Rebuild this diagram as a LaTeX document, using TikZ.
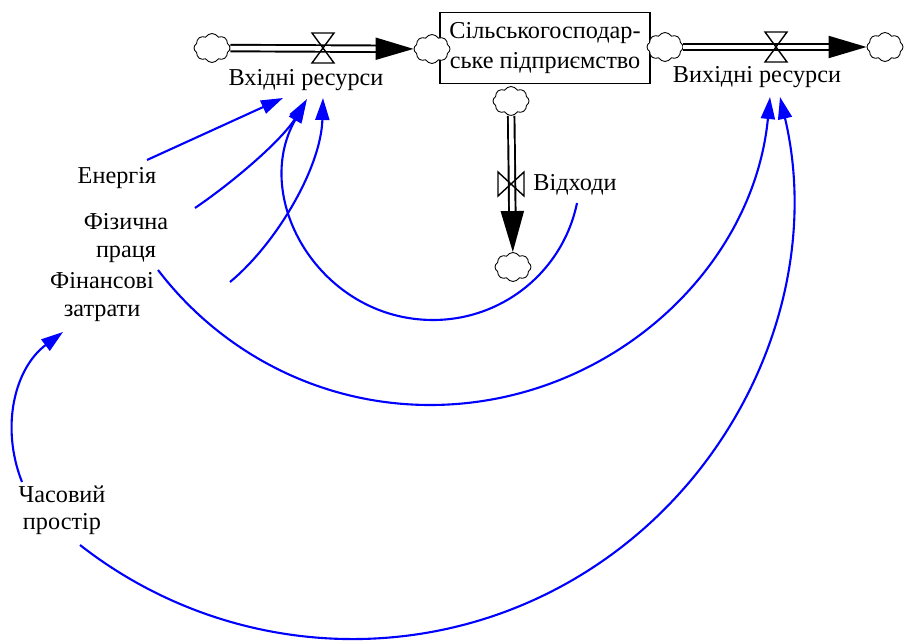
\documentclass[tikz,border=0pt]{standalone}
\usepackage{fontspec}
\setmainfont{Liberation Serif}
\usetikzlibrary{calc,arrows.meta,shapes.symbols,positioning}

\begin{document}
\begin{tikzpicture}[x=0.2mm,y=-0.2mm,every node/.style={font=\rmfamily\fontsize{13.8pt}{15.5pt}\selectfont}]

\tikzset{cloudnode/.style={shape=cloud,draw,fill=white,line width=0.5pt,cloud puffs=8,cloud puff arc=120,cloud ignores aspect,minimum width=7.2mm,minimum height=5.8mm,inner sep=0pt},
stocknode/.style={draw,line width=1.1pt,minimum width=42mm,minimum height=14.2mm,align=center,inner sep=0pt,font=\rmfamily\fontsize{13.8pt}{17pt}\selectfont},
labelnode/.style={align=center,inner sep=1pt},
pipe/.style={double,double distance=2.6pt,line width=1.1pt,-{Triangle[length=7.6mm,width=4.4mm]}},
valveline/.style={line width=0.8pt},
link/.style={blue,line width=1.2pt,-{Triangle[length=4.4mm,width=2.8mm]}}}

\useasboundingbox (0,0) rectangle (905,642);

% Stock
\node[stocknode] (farm) at (545,48) {Сільськогосподар-\\ське підприємство};

% Clouds
\node[cloudnode] (cloudA) at (212,48) {};
\node[cloudnode] (cloudB) at (432,49) {};
\node[cloudnode] (cloudC) at (665,47) {};
\node[cloudnode] (cloudD) at (885,47) {};
\node[cloudnode] (cloudE) at (511,101) {};
\node[cloudnode] (cloudF) at (513,267) {};

% Flows
\draw[pipe] (cloudA) -- (cloudB);
\draw[pipe] (cloudC) -- (cloudD);
\draw[pipe,-{Triangle[length=8.2mm,width=4.6mm]}] (cloudE) -- (cloudF);

% Valves
\coordinate (vIn) at (323,48);
\coordinate (vOut) at (776,47);
\coordinate (vWaste) at (511,184);
\foreach \v in {vIn,vOut} \draw[valveline] ($(\v)+(-11,-15)$) -- ($(\v)+(11,-15)$) -- ($(\v)+(-11,15)$) -- ($(\v)+(11,15)$) -- cycle;
\draw[valveline] ($(vWaste)+(-13,-12)$) -- ($(vWaste)+(-13,12)$) -- ($(vWaste)+(13,-12)$) -- ($(vWaste)+(13,12)$) -- cycle;

% Flow names
\node[labelnode] (lIn) at (306,80) {Вхідні ресурси};
\node[labelnode] (lOut) at (757,77) {Вихідні ресурси};
\node[labelnode] (lWaste) at (575,185) {Відходи};

% Auxiliaries
\node[labelnode] (energy) at (117,178) {Енергія};
\node[labelnode] (labour) at (126,238) {Фізична\\праця};
\node[labelnode] (finance) at (102,297) {Фінансові\\затрати};
\node[labelnode] (time) at (62,510) {Часовий\\простір};

% Links
\draw[link] ($(energy)+(30,-18)$) -- ($(lIn)+(-23,18)$);
\draw[link] ($(labour)+(69,-30)$) .. controls +(41,-28) and +(-24,40) .. ($(lIn)+(1,19)$);
\draw[link] ($(finance)+(128,-15)$) .. controls +(46,-38) and +(-2,70) .. ($(lIn)+(17,18)$);
\draw[link] ($(lWaste)+(2,18)$) .. controls +(-14,68) and +(70,0) .. (433,320) .. controls +(-112,0) and +(-56,98) .. ($(lIn)+(0,21)$);
\draw[link] ($(labour)+(32,32)$) .. controls +(65,85) and +(-107,0) .. (430,405) .. controls +(176,0) and +(-17,175) .. ($(lOut)+(13,20)$);
\draw[link] ($(time)+(18,35)$) .. controls +(147,115) and +(-158,101) .. (589,570) .. controls +(158,-101) and +(43,182) .. ($(lOut)+(23,20)$);
\draw[link] ($(time)+(-40,-28)$) .. controls +(-22,-56) and +(-48,36) .. ($(finance)+(-39,35)$);

\end{tikzpicture}
\end{document}
